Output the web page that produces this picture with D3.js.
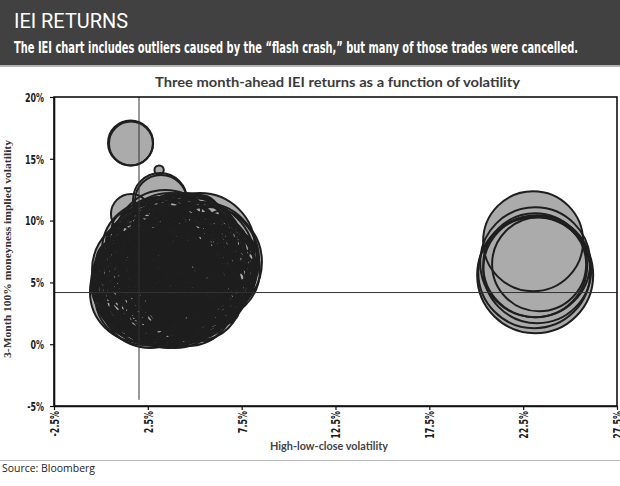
<!DOCTYPE html>
<html><head><meta charset="utf-8">
<script src="https://cdn.jsdelivr.net/npm/d3@7"></script>
<style>body{margin:0;background:#fff}</style>
</head><body>
<svg id="c" width="620" height="486"></svg>
<script>
const headerTitle = "IEI RETURNS";
const headerSubtitle = "The IEI chart includes outliers caused by the \u201cflash crash,\u201d but many of those trades were cancelled.";
const chartTitle = "Three month-ahead IEI returns as a function of volatility";
const xTitle = "High-low-close volatility";
const yTitle = "3-Month 100% moneyness implied volatility";
const sourceText = "Source: Bloomberg";
const xTickValues = [-2.5, 2.5, 7.5, 12.5, 17.5, 22.5, 27.5];
const xTickLabels = ["-2.5%", "2.5%", "7.5%", "12.5%", "17.5%", "22.5%", "27.5%"];
const yTickValues = [-5, 0, 5, 10, 15, 20];
const yTickLabels = ["-5%", "0%", "5%", "10%", "15%", "20%"];
const meanVolatility = 2.03;
const meanImplied = 4.18;
const vLineRange = [-4.5, 20];

// High-low-close volatility (%)
const volatility = [
  1.58,1.60,3.10,3.15,3.20,1.60,
  2.08,2.62,3.95,5.01,5.65,5.55,5.28,4.48,3.42,2.62,2.35,3.15,4.75,5.81,4.21,3.68,3.15,4.75,5.28,1.82,
  1.55,2.35,3.15,4.21,5.28,6.35,1.28,2.08,3.15,3.95,5.01,6.08,7.14,1.02,2.08,2.88,3.68,4.48,5.55,6.61,
  1.55,2.62,3.42,4.48,5.55,6.35,2.62,3.68,4.75,5.81,1.82,3.95,5.01,3.15,4.21,2.62,5.28,3.68,4.75,2.88,
  6.08,1.02,2.35,6.88,4.21,3.42,5.81,2.08,5.28,1.28,
  2.62,3.95,4.75,3.42,5.28,4.21,2.88,6.08,1.82,3.68,4.75,3.15,6.88,1.02,5.55,
  2.62,3.68,5.01,6.08,1.28,2.35,3.42,4.75,6.08,1.82,2.88,4.11,5.28,3.15,4.48,5.81,3.68,2.08,6.88,1.02,
  3.95,2.35,5.55,7.14,1.44,4.48,3.42,6.35,0.48,7.41,2.62,4.75,3.68,5.55,3.15,4.21,1.82,6.61,1.28,5.28,
  2.51,3.58,4.64,5.39,4.85,3.79,2.72,4.21,2.24,5.17,4.00,3.42,4.48,3.04,5.01,
  3.15,4.48,3.95,5.28,2.35,3.42,6.08,2.88,5.01,6.61,1.82,4.75,3.68,4.21,5.81,2.62,1.55,3.95,6.35,3.15,
  2.35,5.28,4.48,1.28,7.41,
  3.42,4.48,3.95,5.01,2.88,3.68,4.75,5.81,2.35,3.15,4.48,5.55,6.61,7.14,6.35,5.28,3.68,2.08,1.02,0.75,
  1.28,2.08,2.62,4.21,5.55,4.21,3.15,5.01,6.08,3.42,5.28,1.82,2.62,3.95,6.61,7.41,6.88,1.02,0.48,2.88,
  4.48,3.42,4.75,5.81,2.08,3.68,5.28,2.62,5.01,3.95,
  2.19,2.35,1.98,2.62,2.88,2.35,1.82,3.15,3.68,4.21,3.15,4.75,5.55,5.44,5.28,5.17,5.01,3.68,4.21,3.42,
  2.62,3.42,4.21,5.01,5.81,2.88,3.68,4.48,3.15,2.35,1.55,3.95,4.75,5.55,6.35,5.28,3.95,2.62,1.82,1.28,
  2.08,3.42,4.48,6.08,6.88,3.15,5.01,4.21,3.68,6.08,
  23.03,23.14,23.14,23.35,23.14,23.09,23.25
];
// 3-month 100% moneyness implied volatility (%)
const impliedVol = [
  16.28,16.24,14.09,11.67,11.59,10.53,
  4.22,3.74,3.90,4.79,6.65,7.22,7.78,8.03,8.43,7.62,6.00,4.39,4.39,6.00,6.41,5.20,7.22,6.81,3.58,5.60,
  8.43,9.24,9.64,9.64,9.24,8.43,6.41,7.22,7.62,8.03,7.62,7.22,6.65,4.39,5.20,6.00,6.41,6.00,5.60,5.20,
  2.77,3.17,3.98,3.98,3.58,3.74,1.96,2.12,2.36,2.61,4.39,5.20,4.79,3.58,7.62,6.81,6.41,3.17,8.84,8.43,
  4.79,6.00,2.36,5.60,1.15,9.24,8.43,3.58,2.77,3.58,
  4.79,6.81,5.60,5.20,7.22,3.58,7.22,6.41,6.41,8.43,1.96,1.96,4.39,7.22,9.64,
  8.84,8.84,8.43,7.62,5.20,6.41,6.65,6.65,6.17,3.58,4.39,4.55,4.39,2.77,2.77,3.98,7.62,8.03,6.97,6.65,
  1.55,1.55,1.55,4.79,9.40,10.86,10.86,9.64,5.60,6.41,5.60,5.20,6.00,7.62,8.43,3.17,7.22,2.77,2.36,10.45,
  4.79,3.58,3.58,6.00,7.62,7.62,6.65,5.60,5.20,6.97,4.79,5.84,6.65,5.03,5.20,
  6.41,7.22,4.39,5.20,3.98,2.77,5.60,8.03,3.58,6.41,5.60,8.43,5.20,8.43,4.39,2.77,6.81,9.24,4.79,1.15,
  7.62,8.03,1.55,4.39,5.60,
  7.22,6.41,5.60,6.00,5.20,4.39,4.39,6.81,6.81,9.24,9.24,8.43,7.62,5.60,3.74,1.96,1.55,1.96,3.58,5.20,
  7.62,9.24,6.00,4.79,4.79,6.81,3.58,3.17,8.43,8.03,6.81,4.79,3.58,2.77,4.39,7.22,8.43,8.43,4.39,0.74,
  4.39,6.00,7.62,5.20,6.41,3.58,3.98,8.03,10.05,10.45,
  4.39,3.98,4.79,4.22,3.90,5.20,4.95,3.74,8.03,8.19,8.03,7.94,6.81,6.41,6.00,5.20,4.39,3.98,4.14,4.22,
  7.22,7.62,7.22,6.81,6.00,6.41,6.81,5.60,4.79,4.39,5.60,3.58,3.58,4.39,6.00,8.43,8.43,9.64,8.03,6.00,
  2.77,1.96,1.96,3.17,6.41,6.00,5.60,4.79,9.24,7.62,
  8.33,6.63,6.39,6.47,5.58,5.83,6.07
];
// Bubble size (relative)
const bubbleSize = [
  14.1,13.4,0.6,20.3,18.8,11.1,
  69.4,69.4,75.1,69.4,84.0,75.1,84.0,75.1,69.4,64.0,78.0,84.0,64.0,69.4,87.1,69.4,81.0,56.3,44.4,49.0,
  13.4,17.4,21.8,25.0,21.8,13.4,21.8,28.4,11.1,34.0,17.4,25.0,16.0,17.4,34.0,16.0,40.1,11.1,28.4,21.8,
  18.8,25.0,13.4,32.1,16.0,13.4,13.4,18.8,16.0,11.1,40.1,21.8,36.0,44.4,49.0,40.1,44.4,36.0,25.0,32.1,
  32.1,11.1,18.8,18.8,7.1,9.0,18.8,25.0,21.8,13.4,
  4.0,2.8,5.4,7.1,4.0,6.3,5.4,2.8,4.0,4.7,4.0,5.4,4.0,2.8,4.0,
  25.0,36.0,40.1,32.1,28.4,53.8,58.8,64.0,44.4,32.1,58.8,53.8,49.0,28.4,25.0,25.0,18.8,21.8,21.8,16.0,
  11.1,9.0,7.1,9.0,7.1,7.1,5.4,5.4,5.4,7.1,11.1,16.0,25.0,9.0,13.4,9.0,13.4,5.4,7.1,11.1,
  75.1,64.0,58.8,81.0,75.1,81.0,69.4,93.4,64.0,87.1,100.0,106.8,106.8,93.4,84.0,
  4.0,7.1,4.0,9.0,7.1,5.4,7.1,4.0,5.4,4.0,9.0,4.0,1.8,16.0,7.1,11.1,5.4,11.1,11.1,4.0,
  7.1,13.4,5.4,5.4,4.0,
  9.0,13.4,7.1,18.8,21.8,16.0,9.0,11.1,18.8,16.0,13.4,16.0,11.1,11.1,7.1,9.0,7.1,9.0,9.0,11.1,
  9.0,9.0,25.0,28.4,18.8,21.8,18.8,13.4,9.0,25.0,25.0,16.0,13.4,13.4,16.0,5.4,5.4,5.4,4.0,2.8,
  5.4,5.4,5.4,4.0,2.8,2.8,4.0,2.8,5.4,5.4,
  64.0,69.4,58.8,75.1,69.4,75.1,53.8,64.0,75.1,69.4,64.0,69.4,81.0,75.1,87.1,69.4,58.8,75.1,69.4,81.0,
  11.1,7.1,11.1,9.0,13.4,9.0,13.4,18.8,11.1,16.0,13.4,11.1,18.8,11.1,9.0,7.1,9.0,5.4,7.1,5.4,
  11.1,9.0,9.0,9.0,11.1,18.8,21.8,9.0,16.0,13.4,
  69.4,84.0,75.1,61.4,93.4,87.1,81.0
];

const svg = d3.select("#c");
const W = 620, H = 486;
const m = {left: 54, right: 617, top: 97, bottom: 406};

// Header
svg.append("rect").attr("x", 0).attr("y", 0).attr("width", W).attr("height", 65).attr("fill", "#414141");
svg.append("rect").attr("x", 0).attr("y", 65).attr("width", W).attr("height", 2).attr("fill", "#b4b4b4");
svg.append("text").attr("x", 14).attr("y", 27.5)
  .attr("font-family", "Roboto, 'DejaVu Sans', sans-serif").attr("font-size", 20.5).attr("font-weight", 400)
  .attr("fill", "#fff").attr("textLength", 114).attr("lengthAdjust", "spacingAndGlyphs").text(headerTitle);
svg.append("text").attr("x", 14).attr("y", 52.5)
  .attr("font-family", "'DejaVu Sans Condensed', 'DejaVu Sans', sans-serif").attr("font-size", 16.5).attr("font-weight", 700)
  .attr("fill", "#fff").attr("textLength", 564).attr("lengthAdjust", "spacingAndGlyphs").text(headerSubtitle);

// Chart title
svg.append("text").attr("x", 337.5).attr("y", 87.3).attr("text-anchor", "middle")
  .attr("font-family", "Lato, 'Open Sans', sans-serif").attr("font-size", 13.5).attr("font-weight", 700)
  .attr("fill", "#3a3a3a").attr("textLength", 365).attr("lengthAdjust", "spacingAndGlyphs").text(chartTitle);

const x = d3.scaleLinear().domain([-2.5, 27.5]).range([m.left, m.right]);
const y = d3.scaleLinear().domain([-5, 20]).range([m.bottom, m.top]);
const r = d3.scaleSqrt().domain([0, 100]).range([0, 60]);

const pts = volatility.map((v, i) => ({x: v, y: impliedVol[i], s: bubbleSize[i]}));

// Bubble fills first, then all outlines
svg.append("g").selectAll("circle").data(pts).join("circle")
  .attr("cx", d => x(d.x)).attr("cy", d => y(d.y)).attr("r", d => r(d.s))
  .attr("fill", "#ababab");
svg.append("g").selectAll("circle").data(pts).join("circle")
  .attr("cx", d => x(d.x)).attr("cy", d => y(d.y)).attr("r", d => r(d.s))
  .attr("fill", "none").attr("stroke", "#1e1e1e").attr("stroke-width", 2);

// Reference lines
svg.append("line").attr("x1", x(-2.5)).attr("x2", x(27.5)).attr("y1", y(meanImplied)).attr("y2", y(meanImplied))
  .attr("stroke", "#333").attr("stroke-width", 1);
svg.append("line").attr("x1", x(meanVolatility)).attr("x2", x(meanVolatility)).attr("y1", y(vLineRange[1])).attr("y2", y(vLineRange[0]))
  .attr("stroke", "#333").attr("stroke-width", 1);

// Frame
svg.append("rect").attr("x", m.left).attr("y", m.top).attr("width", m.right - m.left).attr("height", m.bottom - m.top)
  .attr("fill", "none").attr("stroke", "#111").attr("stroke-width", 1.6);

const tickFont = "'DejaVu Sans Condensed', 'DejaVu Sans', sans-serif";
const sx = 0.74;
const yAxis = svg.append("g").attr("transform", `translate(${m.left},0)`)
  .call(d3.axisLeft(y).tickValues(yTickValues).tickSize(4).tickSizeOuter(0)
    .tickFormat((d, i) => yTickLabels[i]));
const xAxis = svg.append("g").attr("transform", `translate(0,${m.bottom})`)
  .call(d3.axisBottom(x).tickValues(xTickValues).tickSize(4).tickSizeOuter(0)
    .tickFormat((d, i) => xTickLabels[i]));
[yAxis, xAxis].forEach(g => {
  g.select(".domain").attr("stroke", "#111").attr("stroke-width", 1.6);
  g.selectAll(".tick line").attr("stroke", "#111").attr("stroke-width", 1.2);
  g.selectAll(".tick text").attr("font-family", tickFont).attr("font-size", 12).attr("font-weight", 700)
    .attr("fill", "#1a1a1a");
});
yAxis.selectAll(".tick text").attr("x", -10 / sx).attr("dy", "0.36em").attr("transform", `scale(${sx},1)`);
xAxis.selectAll(".tick text").attr("transform", `rotate(-90) scale(${sx},1)`)
  .attr("text-anchor", "end").attr("x", -5 / sx).attr("y", 0).attr("dy", "0.36em");

// Axis titles
svg.append("text").attr("transform", "translate(11,249) rotate(-90)").attr("text-anchor", "middle")
  .attr("font-family", "'Liberation Serif', serif").attr("font-size", 11).attr("font-weight", 700)
  .attr("fill", "#333").attr("textLength", 218).attr("lengthAdjust", "spacingAndGlyphs").text(yTitle);
svg.append("text").attr("x", 329).attr("y", 450).attr("text-anchor", "middle")
  .attr("font-family", "Lato, sans-serif").attr("font-size", 11.5).attr("font-weight", 700)
  .attr("fill", "#444").attr("textLength", 118).attr("lengthAdjust", "spacingAndGlyphs").text(xTitle);

// Footer
svg.append("line").attr("x1", 0).attr("x2", W).attr("y1", 460.5).attr("y2", 460.5).attr("stroke", "#bbb").attr("stroke-width", 1);
svg.append("text").attr("x", 2).attr("y", 471.5)
  .attr("font-family", "'Open Sans', sans-serif").attr("font-size", 10.5).attr("fill", "#222")
  .attr("textLength", 93).attr("lengthAdjust", "spacingAndGlyphs").text(sourceText);
</script>
</body></html>
